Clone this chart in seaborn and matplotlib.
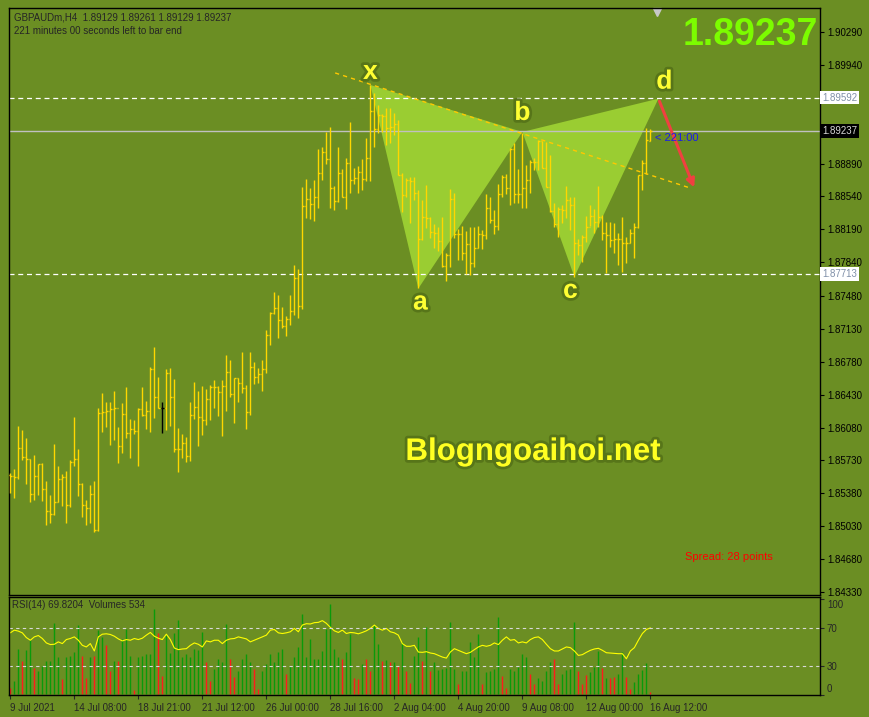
import matplotlib
matplotlib.use("Agg")
import matplotlib.pyplot as plt
import matplotlib.patheffects as pe
import matplotlib.transforms as mtransforms
import numpy as np
import seaborn as sns

# GBPAUD H4 bars
highs = [
    1.85592, 1.85634, 1.86096, 1.86053, 1.85971, 1.85741, 1.85787, 1.85687, 1.85705, 1.85510,
    1.85361, 1.85904, 1.85670, 1.85584, 1.85616, 1.85733, 1.86188, 1.85851, 1.85485, 1.85307,
    1.85467, 1.85510, 1.86284, 1.86447, 1.86351, 1.86351, 1.86468, 1.86088, 1.86337, 1.86507,
    1.86170, 1.86159, 1.86284, 1.86507, 1.86362, 1.86720, 1.86933, 1.86614, 1.86348, 1.86703,
    1.86713, 1.86593, 1.86071, 1.86010, 1.85982, 1.86351, 1.86561, 1.86468, 1.86522, 1.86490,
    1.86529, 1.86585, 1.86522, 1.86585, 1.86852, 1.86798, 1.86603, 1.86603, 1.86884, 1.86532,
    1.86884, 1.86777, 1.86710, 1.86798, 1.87118, 1.87310, 1.87523, 1.87491, 1.87363, 1.87267,
    1.87491, 1.87810, 1.87768, 1.88643, 1.88725, 1.88632, 1.88714, 1.89044, 1.89062, 1.89229,
    1.89278, 1.88650, 1.89062, 1.88828, 1.88952, 1.89332, 1.88845, 1.88863, 1.88938, 1.89158,
    1.89726, 1.89637, 1.89513, 1.89413, 1.89477, 1.89477, 1.89424, 1.89353, 1.88785, 1.88732,
    1.88742, 1.88742, 1.88607, 1.88501, 1.88661, 1.88316, 1.88245, 1.88210, 1.88316, 1.87933,
    1.88615, 1.88572, 1.88189, 1.88224, 1.88171, 1.88210, 1.88210, 1.88224, 1.88181, 1.88565,
    1.88529, 1.88394, 1.88671, 1.88767, 1.88778, 1.89051, 1.89104, 1.88828, 1.89211, 1.88874,
    1.88927, 1.88945, 1.89140, 1.89129, 1.89122, 1.88980, 1.88465, 1.88423, 1.88448, 1.88650,
    1.88536, 1.88536, 1.88082, 1.88128, 1.88331, 1.88448, 1.88402, 1.88650, 1.88341, 1.88270,
    1.88270, 1.88260, 1.88146, 1.88323, 1.88110, 1.88189, 1.88252, 1.88767, 1.88927, 1.89264,
    1.89261,
]
lows = [
    1.85379, 1.85332, 1.85535, 1.85733, 1.85478, 1.85290, 1.85307, 1.85364, 1.85300, 1.85041,
    1.85059, 1.85148, 1.85290, 1.85247, 1.85066, 1.85236, 1.85673, 1.85354, 1.85123, 1.85041,
    1.85059, 1.84970, 1.84981, 1.86035, 1.86088, 1.85893, 1.85946, 1.85705, 1.85804, 1.85964,
    1.85751, 1.86010, 1.85673, 1.86206, 1.86067, 1.86035, 1.86177, 1.86284, 1.86025, 1.86053,
    1.86096, 1.85822, 1.85609, 1.85758, 1.85716, 1.85726, 1.86167, 1.85886, 1.86000, 1.86106,
    1.86159, 1.86284, 1.86206, 1.85989, 1.86259, 1.86408, 1.86124, 1.86355, 1.86451, 1.86064,
    1.86213, 1.86543, 1.86557, 1.86472, 1.86664, 1.86958, 1.87285, 1.87036, 1.87143, 1.87054,
    1.87171, 1.87278, 1.87249, 1.87347, 1.88306, 1.88299, 1.88281, 1.88419, 1.88714, 1.88884,
    1.88419, 1.88394, 1.88483, 1.88529, 1.88405, 1.88579, 1.88671, 1.88579, 1.88607, 1.88707,
    1.88707, 1.89069, 1.89218, 1.89229, 1.89087, 1.89112, 1.89193, 1.88767, 1.88377, 1.88529,
    1.88252, 1.88501, 1.87560, 1.88075, 1.88199, 1.88093, 1.87993, 1.87961, 1.87791, 1.87642,
    1.87791, 1.88093, 1.87862, 1.87862, 1.87713, 1.87702, 1.87784, 1.87986, 1.87976, 1.88086,
    1.88252, 1.88139, 1.88181, 1.88529, 1.88565, 1.88448, 1.88465, 1.88473, 1.88412, 1.88412,
    1.88572, 1.88820, 1.88820, 1.88838, 1.88636, 1.88377, 1.88217, 1.88103, 1.88252, 1.88306,
    1.88181, 1.87684, 1.87915, 1.87844, 1.88057, 1.88224, 1.88146, 1.88217, 1.88075, 1.87727,
    1.88004, 1.87933, 1.87809, 1.87738, 1.87826, 1.88039, 1.87880, 1.88199, 1.88607, 1.88774,
    1.89129,
]
opens = [
    1.85574, 1.85567, 1.85549, 1.85858, 1.85765, 1.85741, 1.85378, 1.85563, 1.85687, 1.85421,
    1.85197, 1.85162, 1.85293, 1.85528, 1.85556, 1.85254, 1.85709, 1.85741, 1.85478, 1.85261,
    1.85219, 1.85368, 1.84988, 1.86230, 1.86248, 1.86255, 1.86277, 1.86284, 1.85883, 1.86220,
    1.86017, 1.86060, 1.86046, 1.86273, 1.86209, 1.86252, 1.86699, 1.86401, 1.86284, 1.86284,
    1.86656, 1.86401, 1.85847, 1.85847, 1.85911, 1.85776, 1.86209, 1.86301, 1.86195, 1.86159,
    1.86380, 1.86507, 1.86507, 1.86461, 1.86518, 1.86674, 1.86433, 1.86603, 1.86550, 1.86497,
    1.86241, 1.86720, 1.86614, 1.86649, 1.86699, 1.87061, 1.87295, 1.87349, 1.87221, 1.87157,
    1.87232, 1.87320, 1.87672, 1.87374, 1.88437, 1.88508, 1.88455, 1.88529, 1.88792, 1.89012,
    1.88934, 1.88632, 1.88490, 1.88792, 1.88529, 1.88891, 1.88714, 1.88732, 1.88796, 1.88721,
    1.88945, 1.89452, 1.89254, 1.89406, 1.89396, 1.89264, 1.89282, 1.89307, 1.88767, 1.88554,
    1.88714, 1.88707, 1.88572, 1.88082, 1.88316, 1.88306, 1.88164, 1.88146, 1.88068, 1.87798,
    1.87915, 1.88508, 1.88135, 1.88139, 1.87933, 1.88032, 1.87826, 1.87986, 1.88139, 1.88128,
    1.88412, 1.88288, 1.88224, 1.88565, 1.88742, 1.88625, 1.89041, 1.88565, 1.88565, 1.88625,
    1.88714, 1.88909, 1.88909, 1.89133, 1.88838, 1.88643, 1.88384, 1.88245, 1.88402, 1.88394,
    1.88501, 1.88448, 1.88039, 1.88022, 1.88110, 1.88217, 1.88331, 1.88270, 1.88323, 1.88153,
    1.88128, 1.88075, 1.88082, 1.88082, 1.88039, 1.88047, 1.88153, 1.88217, 1.88767, 1.88899,
    1.89129,
]
closes = [
    1.85567, 1.85549, 1.85858, 1.85765, 1.85741, 1.85378, 1.85563, 1.85687, 1.85421, 1.85197,
    1.85162, 1.85293, 1.85528, 1.85556, 1.85254, 1.85709, 1.85741, 1.85478, 1.85261, 1.85219,
    1.85368, 1.84988, 1.86230, 1.86248, 1.86255, 1.86277, 1.86284, 1.85883, 1.86220, 1.86017,
    1.86060, 1.86046, 1.86273, 1.86209, 1.86252, 1.86699, 1.86401, 1.86284, 1.86284, 1.86656,
    1.86401, 1.85847, 1.85847, 1.85911, 1.85776, 1.86209, 1.86301, 1.86195, 1.86159, 1.86380,
    1.86507, 1.86507, 1.86461, 1.86518, 1.86674, 1.86433, 1.86603, 1.86550, 1.86497, 1.86241,
    1.86720, 1.86614, 1.86649, 1.86699, 1.87061, 1.87295, 1.87349, 1.87221, 1.87157, 1.87232,
    1.87320, 1.87672, 1.87374, 1.88437, 1.88508, 1.88455, 1.88529, 1.88792, 1.89012, 1.88934,
    1.88632, 1.88490, 1.88792, 1.88529, 1.88891, 1.88714, 1.88732, 1.88796, 1.88721, 1.88945,
    1.89452, 1.89254, 1.89406, 1.89396, 1.89264, 1.89282, 1.89307, 1.88767, 1.88554, 1.88714,
    1.88707, 1.88572, 1.88082, 1.88316, 1.88306, 1.88164, 1.88146, 1.88068, 1.87798, 1.87915,
    1.88508, 1.88135, 1.88139, 1.87933, 1.88032, 1.87826, 1.87986, 1.88139, 1.88128, 1.88412,
    1.88288, 1.88224, 1.88565, 1.88742, 1.88625, 1.89041, 1.88565, 1.88565, 1.88625, 1.88714,
    1.88909, 1.88909, 1.89133, 1.88838, 1.88643, 1.88384, 1.88245, 1.88402, 1.88394, 1.88501,
    1.88448, 1.88039, 1.88022, 1.88110, 1.88217, 1.88331, 1.88270, 1.88323, 1.88153, 1.88128,
    1.88075, 1.88082, 1.88082, 1.88039, 1.88047, 1.88153, 1.88217, 1.88767, 1.88899, 1.89140,
    1.89237,
]
black_bar = 38  # the one bar drawn in black

# tick volumes and their bar colours (g = green, r = red)
volumes = [
    1520, 3040, 10260, 7448, 10032, 12160, 5852, 5320, 6460, 7448,
    7600, 16112, 8360, 3572, 8360, 8740, 9500, 15732, 8588, 3648,
    8512, 8588, 14440, 12920, 11020, 5168, 7600, 7600, 12540, 14820,
    8740, 1064, 8360, 8740, 9120, 9120, 19152, 13832, 4180, 13452,
    9424, 13832, 16720, 8360, 9120, 8360, 10260, 10032, 14060, 7220,
    3040, 5700, 7980, 7220, 15960, 7980, 3952, 5168, 7980, 9120,
    7220, 5700, 1140, 5320, 6840, 9120, 7220, 9500, 10260, 4560,
    6460, 8360, 10640, 18088, 8360, 12540, 7980, 7980, 9880, 14820,
    20368, 10260, 8360, 7980, 9500, 13680, 3800, 3420, 6840, 7980,
    5320, 15580, 11400, 7600, 7752, 7220, 7220, 6460, 11780, 5168,
    2660, 8740, 12920, 7448, 15200, 5320, 7220, 5472, 5700, 5928,
    16340, 5700, 2280, 5320, 5320, 11780, 8360, 13680, 2280, 4940,
    5320, 5700, 17480, 4180, 1368, 5700, 5320, 6080, 9120, 8360,
    4560, 2280, 3800, 3040, 5320, 7220, 7980, 2280, 4560, 5548,
    5700, 16340, 5320, 2280, 4332, 4940, 6080, 9880, 5928, 3648,
    3800, 3952, 4560, 9500, 3952, 1292, 2888, 4560, 5548, 6992,
    534,
]
vol_colors = (
    "rggrggrggg" "gggrggggrr" "grggrrgrgg" "grgggggrrg" "gggggggggr"
    "rggggrrggg" "grrggggggr" "gggggggggg" "gggrggrrgr" "rggrgrgrgr"
    "rggrgrgggg" "ggrgggggrg" "gggrrggggg" "rrggggrrgg" "ggrrrgggrg"
    "rrggrrgggg" "r"
)
rsi = [
    64.7, 67.5, 66.5, 64.7, 59.8, 57.0, 60.5, 61.9, 58.8, 54.2,
    52.5, 52.8, 55.3, 53.5, 57.7, 58.8, 60.5, 57.0, 51.7, 50.0,
    53.5, 45.8, 60.5, 63.3, 63.7, 63.0, 61.2, 58.4, 56.3, 57.7,
    57.0, 58.8, 57.7, 59.1, 62.3, 65.1, 61.2, 59.1, 57.7, 63.3,
    57.7, 48.9, 47.2, 47.9, 48.2, 51.7, 54.2, 52.8, 50.0, 56.3,
    55.3, 57.0, 57.0, 53.5, 57.0, 58.4, 58.8, 60.5, 59.5, 58.4,
    55.3, 57.0, 58.8, 60.5, 62.3, 67.5, 68.2, 64.7, 64.0, 64.7,
    65.8, 69.3, 65.8, 72.8, 74.2, 73.9, 75.3, 75.6, 77.4, 74.6,
    70.4, 66.8, 65.1, 67.5, 64.0, 65.1, 64.7, 63.7, 65.1, 66.8,
    69.3, 72.8, 69.3, 67.5, 69.3, 65.8, 64.7, 62.3, 53.5, 50.7,
    50.7, 51.7, 44.7, 44.4, 45.1, 43.7, 43.0, 41.2, 39.5, 38.4,
    44.7, 48.2, 46.5, 44.7, 43.0, 44.4, 47.2, 50.0, 51.7, 50.7,
    51.7, 54.2, 52.5, 57.0, 60.5, 57.0, 57.7, 54.2, 55.3, 54.2,
    57.7, 59.8, 60.5, 57.7, 52.8, 48.2, 45.8, 45.8, 47.9, 50.0,
    49.3, 45.8, 41.2, 42.0, 44.4, 46.5, 47.9, 48.6, 46.5, 44.0,
    43.7, 43.4, 43.0, 43.0, 37.7, 45.8, 49.3, 57.0, 64.0, 68.2,
    69.8204,
]

# axis ticks
price_ticks = [1.90290, 1.89940, 1.89590, 1.89240, 1.88890, 1.88540, 1.88190, 1.87840,
               1.87480, 1.87130, 1.86780, 1.86430, 1.86080, 1.85730, 1.85380, 1.85030,
               1.84680, 1.84330]
date_ticks = [0, 16, 32, 48, 64, 80, 96, 112, 128, 144, 160]
date_labels = ["9 Jul 2021", "14 Jul 08:00", "18 Jul 21:00", "21 Jul 12:00", "26 Jul 00:00",
               "28 Jul 16:00", "2 Aug 04:00", "4 Aug 20:00", "9 Aug 08:00", "12 Aug 00:00",
               "16 Aug 12:00"]
rsi_ticks = [100, 70, 30, 0]
rsi_levels = [70, 30]

# harmonic pattern drawn on the chart
pattern_names = ["x", "a", "b", "c", "d"]
pattern_idx = [90, 102, 128, 141, 162]
pattern_price = [1.89726, 1.87560, 1.89226, 1.87684, 1.89580]
trend_idx = [81.2, 169.9]
trend_price = [1.89854, 1.88630]
arrow_idx = [162, 171.2]
arrow_price = [1.89580, 1.88608]
level_lines = [1.89592, 1.87713]
bid_price = 1.89237

BG = "#6B8E23"
BAR = "#FFD700"
W, H = 869, 717

sns.set_style("ticks", {"axes.facecolor": BG, "figure.facecolor": BG,
                        "axes.edgecolor": "black"})
plt.rcParams["font.family"] = ["Liberation Sans", "DejaVu Sans"]
plt.rcParams["font.size"] = 7


def rect(l, t, r, b):
    return [l / W, 1 - b / H, (r - l) / W, (b - t) / H]


fig = plt.figure(figsize=(W / 100, H / 100), dpi=100, facecolor=BG)
ax = fig.add_axes(rect(9, 8, 820, 595))
sub = fig.add_axes(rect(9, 597, 820, 695))

idx = np.arange(len(closes))
xlim = (-0.33, 202.4)

# ---- main price panel
ax.set_xlim(*xlim)
ax.set_ylim(1.84298, 1.90545)

ax.fill([pattern_idx[i] for i in (0, 1, 2)], [pattern_price[i] for i in (0, 1, 2)],
        color="#9ACD32", lw=0, zorder=1)
ax.fill([pattern_idx[i] for i in (2, 3, 4)], [pattern_price[i] for i in (2, 3, 4)],
        color="#9ACD32", lw=0, zorder=1)

colors = [("black" if i == black_bar else BAR) for i in idx]
ax.vlines(idx, lows, highs, colors=colors, lw=1.0, zorder=3)
ax.hlines(opens, idx - 0.45, idx, colors=colors, lw=1.0, zorder=3)
ax.hlines(closes, idx, idx + 0.45, colors=colors, lw=1.0, zorder=3)

for lv in level_lines:
    ax.axhline(lv, color="white", lw=0.9, ls=(0, (4, 3)), zorder=2)
ax.axhline(bid_price, color="#C0C0C0", lw=1.0, zorder=2)

ax.plot(trend_idx, trend_price, color="#FFC800", lw=1.0, ls=(0, (3, 3)), zorder=4)
ax.annotate("", xy=(arrow_idx[1], arrow_price[1]), xytext=(arrow_idx[0], arrow_price[0]),
            arrowprops=dict(arrowstyle="-|>", color="#F04040", lw=2.2, mutation_scale=12),
            zorder=5)

glow = [pe.withStroke(linewidth=4, foreground="#4f6b16", alpha=0.7)]
label_offsets = [(0, 13), (2, -14), (0, 19), (-4, -14), (6, 17)]
for name, xi, yi, off in zip(pattern_names, pattern_idx, pattern_price, label_offsets):
    ax.annotate(name, (xi, yi), xytext=off, textcoords="offset pixels", ha="center",
                va="center", fontsize=19, fontweight="bold", color="#FFFF33",
                path_effects=glow, zorder=6)

ax.annotate("< 221:00", (idx[-1], closes[-1]), xytext=(5, -7), textcoords="offset pixels",
            va="center", ha="left", fontsize=8, color="#1a1aee", zorder=6)
ax.plot([idx[-1] + 1.7], [0.993], marker="v", ms=6, color="#C8C8C8",
        transform=ax.get_xaxis_transform(), clip_on=False)

ax.set_xticks([])
ax.yaxis.tick_right()
ax.set_yticks(price_ticks)
# labels hidden under the price tags of the two lines
hidden = {1.89590, 1.89240}
ax.set_yticklabels(["" if p in hidden else f"{p:.5f}" for p in price_ticks])
ax.tick_params(axis="y", length=3, width=0.8, pad=2, labelsize=7, colors="black")

ytr = ax.get_yaxis_transform()
for lv in level_lines:
    ax.text(1.0025, lv, f"{lv:.5f}", transform=ytr, ha="left", va="center", fontsize=7,
            color="#8090a8", clip_on=False, zorder=10,
            bbox=dict(boxstyle="square,pad=0.2", fc="white", ec="none"))
ax.text(1.0025, bid_price, f"{bid_price:.5f}", transform=ytr, ha="left", va="center",
        fontsize=7, color="#d8d8d8", clip_on=False, zorder=10,
        bbox=dict(boxstyle="square,pad=0.2", fc="black", ec="none"))

for s in ax.spines.values():
    s.set_color("black")
    s.set_linewidth(1)

# ---- RSI + volumes panel
vax = sub.twinx()
vax.set_ylim(-135, 21944)
vax.vlines(idx, 0, volumes, colors=["#0a9a0a" if c == "g" else "#FF1a1a" for c in vol_colors],
           lw=1.0)
vax.set_yticks([])
for s in vax.spines.values():
    s.set_visible(False)
sub.set_zorder(vax.get_zorder() + 1)
sub.patch.set_visible(False)

sns.lineplot(x=idx, y=rsi, ax=sub, color="#FFFF00", lw=0.8)
for lv in rsi_levels:
    sub.axhline(lv, color="#D8D8D8", lw=0.8, ls=(0, (3, 3)))
sub.set_xlim(*xlim)
sub.set_ylim(0, 102)
sub.yaxis.tick_right()
sub.set_yticks(rsi_ticks)
sub.set_yticklabels([str(t) for t in rsi_ticks])
sub.tick_params(axis="y", length=3, width=0.8, pad=2, labelsize=7)
# the terminal draws the 100 and 0 labels inside the window
for lab, dy in zip(sub.get_yticklabels(), [-5, 0, 0, 7]):
    lab.set_transform(lab.get_transform() +
                      mtransforms.ScaledTranslation(0, dy / 100, fig.dpi_scale_trans))
sub.set_xticks(date_ticks)
sub.set_xticklabels(date_labels, ha="left")
sub.tick_params(axis="x", length=3, width=0.8, pad=3, labelsize=7)
sub.set_xlabel("")
sub.set_ylabel("")
for s in sub.spines.values():
    s.set_color("black")
    s.set_linewidth(1)

# ---- texts
fig.text(14 / W, 1 - 17 / H,
         f"GBPAUDm,H4  {opens[-1]:.5f} {highs[-1]:.5f} {lows[-1]:.5f} {closes[-1]:.5f}",
         fontsize=7, va="center")
fig.text(14 / W, 1 - 31 / H, "221 minutes 00 seconds left to bar end", fontsize=7, va="center")
fig.text(818 / W, 1 - 35 / H, f"{closes[-1]:.5f}", ha="right", va="center", fontsize=27,
         fontweight="bold", color="#7CFC00")
fig.text(533 / W, 1 - 452 / H, "Blogngoaihoi.net", ha="center", va="center", fontsize=22.5,
         fontweight="bold", color="#FFFF22", path_effects=glow)
fig.text(685 / W, 1 - 557 / H, "Spread: 28 points", va="center", fontsize=8, color="#FF0000")
fig.text(12 / W, 1 - 605 / H, f"RSI(14) {rsi[-1]:.4f}  Volumes {volumes[-1]}", va="center",
         fontsize=7)

fig.savefig("out.png", dpi=100, facecolor=BG)
